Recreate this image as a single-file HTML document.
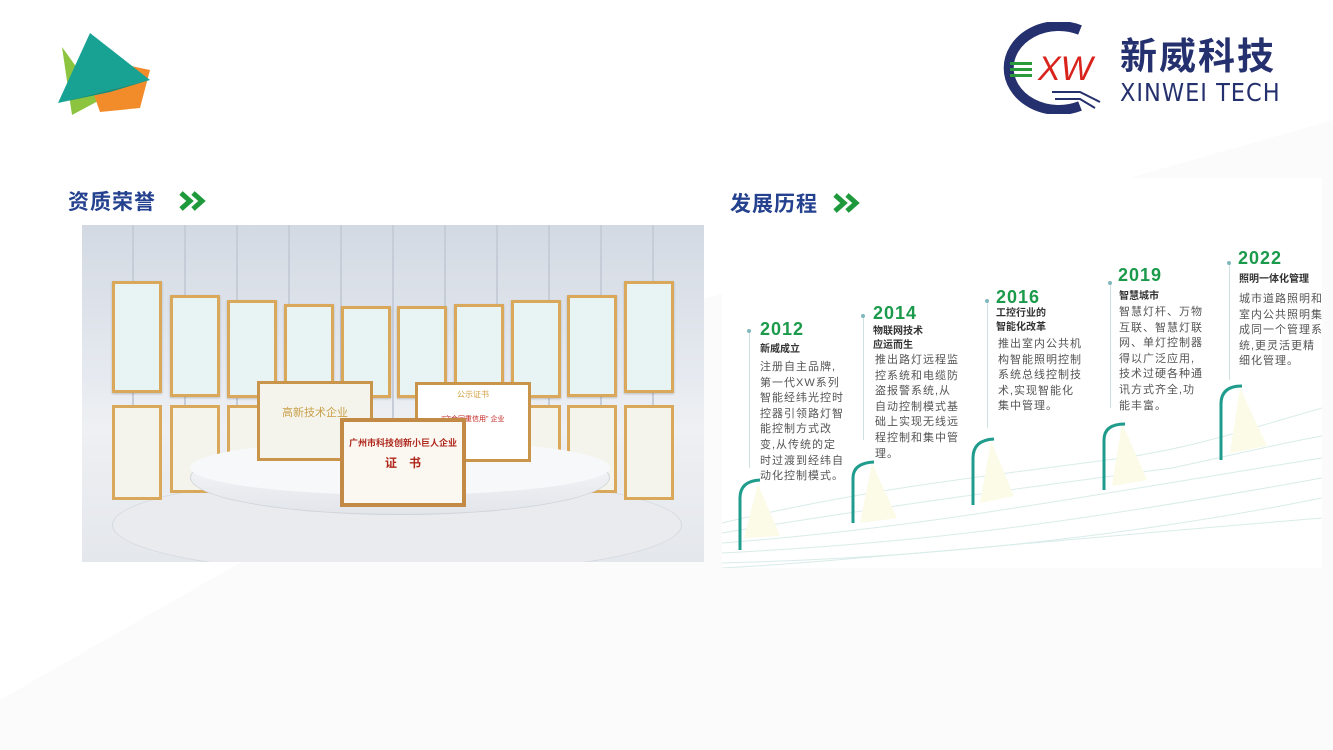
<!DOCTYPE html>
<html><head><meta charset="utf-8"><style>
*{margin:0;padding:0;box-sizing:border-box}
body{width:1333px;height:750px;position:relative;overflow:hidden;background:#fff;font-family:"Liberation Sans","Noto Sans CJK SC",sans-serif}
.a{position:absolute}
.h{font-size:21px;font-weight:bold;color:#24418f;letter-spacing:1px}
.cert{position:absolute;background:#e8f4f4;border:3px solid #d9a85a;box-shadow:0 1px 2px rgba(0,0,0,.2)}
.cert2{position:absolute;background:#f4f4ec;border:3px solid #d9a85a}
.yr{position:absolute;color:#1a9a4a;font-size:18px;font-weight:bold;letter-spacing:1px}
.tt{position:absolute;font-size:10px;font-weight:bold;color:#333;line-height:14px}
.tx{position:absolute;font-size:11px;color:#555;line-height:15.6px;letter-spacing:1px}
.vl{position:absolute;width:1px;background:#cfe0e0}
.dot{position:absolute;width:4px;height:4px;border-radius:2px;background:#7fb8bd}
</style></head><body>
<svg class="a" style="left:0;top:0" width="1333" height="750">
<polygon points="0,750 0,700 700,300 1333,120 1333,750" fill="#fbfbfb"/>
<polygon points="62,47 72,115 100,100" fill="#8cc43f"/>
<polygon points="80,55 150,70 140,108 100,112" fill="#f28c2a"/>
<polygon points="90,33 150,80 58,103" fill="#17a294"/>
<polygon points="58,103 150,80 110,92" fill="#0e8f82"/>
</svg>
<!-- logo -->
<svg class="a" style="left:1000px;top:22px" width="120" height="92">
<path d="M80,8 A50,42 0 1 0 80,84" fill="none" stroke="#25306e" stroke-width="10"/>
<rect x="10" y="40" width="22" height="3" fill="#2a9a3a"/><rect x="10" y="46" width="22" height="3" fill="#2a9a3a"/><rect x="10" y="52" width="22" height="3" fill="#2a9a3a"/>
<text x="38" y="58" font-size="34" font-style="italic" fill="#d8241c" font-family="Liberation Sans">XW</text>
<path d="M52,70 L80,70 L100,80 M55,77 L80,77 L95,86 M60,84 L78,84" fill="none" stroke="#25306e" stroke-width="2"/>
</svg>
<div class="a" style="left:1120px;top:26px;font-size:37px;font-weight:bold;color:#25306e;letter-spacing:2px">新威科技</div>
<div class="a" style="left:1120px;top:78px;font-size:25px;color:#25306e;letter-spacing:1px;font-family:'DejaVu Sans Condensed','Liberation Sans',sans-serif">XINWEI TECH</div>

<!-- photo -->
<div class="a" style="left:82px;top:225px;width:622px;height:337px;background:linear-gradient(#d3d9e3,#e6eaf0 45%,#eef0f3 60%,#e4e7ec);overflow:hidden">
<div class="a" style="left:0;top:0;width:100%;height:200px;background:repeating-linear-gradient(90deg,transparent 0 50px,#c7cdd8 50px 52px)"></div>
<div class="a" style="left:30px;top:250px;width:570px;height:100px;border-radius:50%;background:#e9ebef;border:1px solid #d5d9e0"></div>
</div>
<div class="cert" style="left:112px;top:281px;width:50px;height:112px"></div>
<div class="cert" style="left:170px;top:295px;width:50px;height:102px"></div>
<div class="cert" style="left:227px;top:300px;width:50px;height:98px"></div>
<div class="cert" style="left:284px;top:304px;width:50px;height:94px"></div>
<div class="cert" style="left:341px;top:306px;width:50px;height:92px"></div>
<div class="cert" style="left:397px;top:306px;width:50px;height:92px"></div>
<div class="cert" style="left:454px;top:304px;width:50px;height:94px"></div>
<div class="cert" style="left:511px;top:300px;width:50px;height:98px"></div>
<div class="cert" style="left:567px;top:295px;width:50px;height:102px"></div>
<div class="cert" style="left:624px;top:281px;width:50px;height:112px"></div>
<div class="cert2" style="left:112px;top:405px;width:50px;height:95px"></div>
<div class="cert2" style="left:170px;top:405px;width:50px;height:88px"></div>
<div class="cert2" style="left:567px;top:405px;width:50px;height:88px"></div>
<div class="cert2" style="left:624px;top:405px;width:50px;height:95px"></div>
<div class="cert2" style="left:227px;top:405px;width:50px;height:80px"></div>
<div class="cert2" style="left:511px;top:405px;width:50px;height:80px"></div>
<div class="a" style="left:190px;top:440px;width:420px;height:75px;border-radius:50%;background:linear-gradient(#fafbfc,#e2e5ea);border:1px solid #d0d4da"></div>
<div class="a" style="left:190px;top:440px;width:420px;height:55px;border-radius:50%;background:#f7f8fa"></div>
<div class="cert2" style="left:257px;top:381px;width:116px;height:80px;border-color:#c9954a"><div style="text-align:center;color:#c9a04a;font-size:11px;margin-top:20px">高新技术企业</div></div>
<div class="cert2" style="left:415px;top:382px;width:116px;height:80px;border-color:#c9954a;background:#fff"><div style="text-align:center;color:#d4a040;font-size:8px;margin-top:4px">公示证书</div><div style="text-align:center;color:#c0201c;font-size:7px;margin-top:14px">"守合同重信用" 企业</div></div>
<div class="cert2" style="left:340px;top:418px;width:126px;height:89px;border:4px solid #c28a45;background:#fbf8f2"><div style="text-align:center;color:#b0281c;font-size:9px;font-weight:bold;margin-top:14px">广州市科技创新小巨人企业</div><div style="text-align:center;color:#b0281c;font-size:12px;font-weight:bold;margin-top:5px">证　书</div></div>

<!-- timeline panel -->
<div class="a" style="left:722px;top:178px;width:600px;height:390px;background:#fff"></div>
<svg class="a" style="left:722px;top:178px" width="600" height="390">
<g fill="none" stroke="#d8ece9" stroke-width="1">
<path d="M0,345 C150,310 250,300 400,280 C470,270 530,250 600,230"/>
<path d="M0,355 C150,330 300,310 450,290 C520,275 560,265 600,258"/>
<path d="M0,365 C200,350 350,320 600,280"/>
<path d="M0,375 C200,365 350,345 600,300"/>
<path d="M0,385 C200,380 400,360 600,320"/>
<path d="M0,390 C100,385 300,365 600,340"/>
</g>
<g fill="#fbfbe8">
<polygon points="36,306 22,360 58,358"/><polygon points="150,285 138,345 175,340"/><polygon points="269,263 258,325 292,318"/><polygon points="400,245 390,308 425,302"/><polygon points="518,210 508,275 545,268"/>
</g>
<g fill="none" stroke="#1f9c8c" stroke-width="3">
<path d="M18,372 V320 Q18,303 38,302"/>
<path d="M131,345 V300 Q131,285 152,284"/>
<path d="M251,327 V280 Q251,262 272,261"/>
<path d="M382,312 V262 Q382,246 403,246"/>
<path d="M499,282 V226 Q499,208 520,208"/>
</g>
</svg>

<div class="a h" style="left:68px;top:186px">资质荣誉</div>
<svg class="a" style="left:178px;top:190px" width="34" height="22"><path d="M3,3 L12,11 L3,19 M15,3 L24,11 L15,19" fill="none" stroke="#1e9a3c" stroke-width="5"/></svg>
<div class="a h" style="left:730px;top:188px">发展历程</div>
<svg class="a" style="left:832px;top:192px" width="34" height="22"><path d="M3,3 L12,11 L3,19 M15,3 L24,11 L15,19" fill="none" stroke="#1e9a3c" stroke-width="5"/></svg>

<div class="vl" style="left:749px;top:333px;height:135px"></div><div class="dot" style="left:747px;top:329px"></div>
<div class="vl" style="left:863px;top:315px;height:125px"></div><div class="dot" style="left:861px;top:314px"></div>
<div class="vl" style="left:987px;top:300px;height:128px"></div><div class="dot" style="left:985px;top:299px"></div>
<div class="vl" style="left:1110px;top:283px;height:125px"></div><div class="dot" style="left:1108px;top:281px"></div>
<div class="vl" style="left:1229px;top:263px;height:117px"></div><div class="dot" style="left:1227px;top:261px"></div>

<div class="yr" style="left:760px;top:319px">2012</div>
<div class="tt" style="left:760px;top:343px">新威成立</div>
<div class="tx" style="left:760px;top:360px;width:86px">注册自主品牌,第一代XW系列智能经纬光控时控器引领路灯智能控制方式改变,从传统的定时过渡到经纬自动化控制模式。</div>
<div class="yr" style="left:873px;top:303px">2014</div>
<div class="tt" style="left:873px;top:325px">物联网技术<br>应运而生</div>
<div class="tx" style="left:875px;top:353px;width:86px">推出路灯远程监控系统和电缆防盗报警系统,从自动控制模式基础上实现无线远程控制和集中管理。</div>
<div class="yr" style="left:996px;top:287px">2016</div>
<div class="tt" style="left:996px;top:307px">工控行业的<br>智能化改革</div>
<div class="tx" style="left:998px;top:337px;width:86px">推出室内公共机构智能照明控制系统总线控制技术,实现智能化集中管理。</div>
<div class="yr" style="left:1118px;top:265px">2019</div>
<div class="tt" style="left:1119px;top:290px">智慧城市</div>
<div class="tx" style="left:1119px;top:305px;width:86px">智慧灯杆、万物互联、智慧灯联网、单灯控制器得以广泛应用,技术过硬各种通讯方式齐全,功能丰富。</div>
<div class="yr" style="left:1238px;top:248px">2022</div>
<div class="tt" style="left:1239px;top:273px">照明一体化管理</div>
<div class="tx" style="left:1239px;top:292px;width:86px">城市道路照明和室内公共照明集成同一个管理系统,更灵活更精细化管理。</div>
</body></html>
